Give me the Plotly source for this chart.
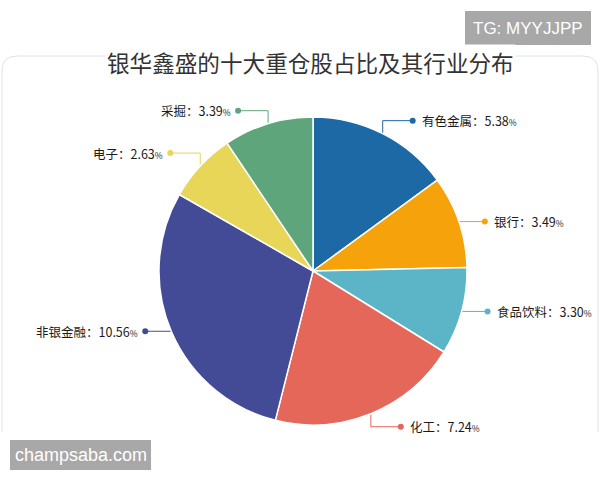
import numpy as np
import plotly.graph_objects as go

categories = ["有色金属", "银行", "食品饮料", "化工", "非银金融", "电子", "采掘"]
values = [5.38, 3.49, 3.30, 7.24, 10.56, 2.63, 3.39]
colors = ["#1c69a6", "#f6a20a", "#5bb5c6", "#e4675a", "#434b97", "#e7d657", "#5ea57c"]
title_text = "银华鑫盛的十大重仓股占比及其行业分布"
watermark_top = "TG: MYYJJPP"
watermark_bottom = "champsaba.com"

W, H = 600, 480
cx, cy, R = 313, 271, 154
FONT = "Noto Sans CJK SC, Noto Sans, sans-serif"

fig = go.Figure()
fig.add_trace(go.Pie(
    labels=categories, values=values, sort=False, direction="clockwise", rotation=0,
    marker=dict(colors=colors, line=dict(color="white", width=1.5)),
    textinfo="none", hoverinfo="label+value", showlegend=False,
    domain=dict(x=[(cx - R) / W, (cx + R) / W], y=[1 - (cy + R) / H, 1 - (cy - R) / H]),
))

# leader lines computed from slice angles
vals = np.array(values)
cum = np.cumsum(vals)
mid = (cum - vals / 2) / vals.sum() * 2 * np.pi
V, HL, HS = 13, 30, 26
annotations = []
for cat, v, col, a in zip(categories, values, colors, mid):
    s, c = np.sin(a), np.cos(a)
    ex, ey = cx + R * s, cy - R * c
    sx = 1 if s >= 0 else -1
    if abs(c) > 0.6:
        p1 = (ex, ey - np.sign(c) * V)
        dot = (p1[0] + sx * HL, p1[1])
        xs, ys = [ex, p1[0], dot[0]], [ey, p1[1], dot[1]]
    else:
        dot = (ex + sx * HS, ey)
        xs, ys = [ex, dot[0]], [ey, dot[1]]
    fig.add_trace(go.Scatter(x=xs, y=ys, mode="lines", line=dict(color=col, width=1),
                             hoverinfo="skip", showlegend=False))
    fig.add_trace(go.Scatter(x=[dot[0]], y=[dot[1]], mode="markers",
                             marker=dict(color=col, size=6), hoverinfo="skip", showlegend=False))
    txt = f"{cat}：{v:.2f}<span style='font-size:8.5px'>%</span>"
    annotations.append(dict(
        x=dot[0] + (7 if sx > 0 else -5), y=dot[1], xref="x", yref="y",
        text=txt, showarrow=False, xanchor="left" if sx > 0 else "right", yanchor="middle",
        font=dict(family=FONT, size=12.5, color="#1a1a1a"),
    ))

# title
annotations.append(dict(x=310, y=62, xref="x", yref="y", text=title_text, showarrow=False,
                        xanchor="center", yanchor="middle", bgcolor="white",
                        font=dict(family=FONT, size=22.6, color="#333333")))
# watermarks
annotations.append(dict(x=528, y=28, xref="x", yref="y", text=watermark_top, showarrow=False,
                        xanchor="center", yanchor="middle",
                        font=dict(family="Liberation Sans, Arial, sans-serif", size=17, color="white")))
annotations.append(dict(x=80.5, y=455, xref="x", yref="y", text=watermark_bottom, showarrow=False,
                        xanchor="center", yanchor="middle",
                        font=dict(family="Liberation Sans, Arial, sans-serif", size=18, color="white")))

shapes = [
    dict(type="path", xref="x", yref="y", layer="below",
         path="M 2,432 L 2,71 Q 2,56 17,56 L 583,56 Q 598,56 598,71 L 598,432",
         line=dict(color="#e2e2e2", width=1)),
    dict(type="rect", xref="x", yref="y", x0=465, x1=591, y0=11, y1=45,
         fillcolor="#a8a8a8", line=dict(width=0), layer="below"),
    dict(type="rect", xref="x", yref="y", x0=10, x1=151, y0=440, y1=470,
         fillcolor="#a8a8a8", line=dict(width=0), layer="below"),
]

fig.update_layout(
    width=W, height=H, margin=dict(l=0, r=0, t=0, b=0),
    paper_bgcolor="white", plot_bgcolor="rgba(0,0,0,0)",
    xaxis=dict(range=[0, W], visible=False, fixedrange=True, domain=[0, 1]),
    yaxis=dict(range=[H, 0], visible=False, fixedrange=True, domain=[0, 1]),
    annotations=annotations, shapes=shapes, showlegend=False,
)

fig.write_html("out.html", config={"displayModeBar": False},
               post_script="document.body.style.margin='0';document.body.style.overflow='hidden';")
